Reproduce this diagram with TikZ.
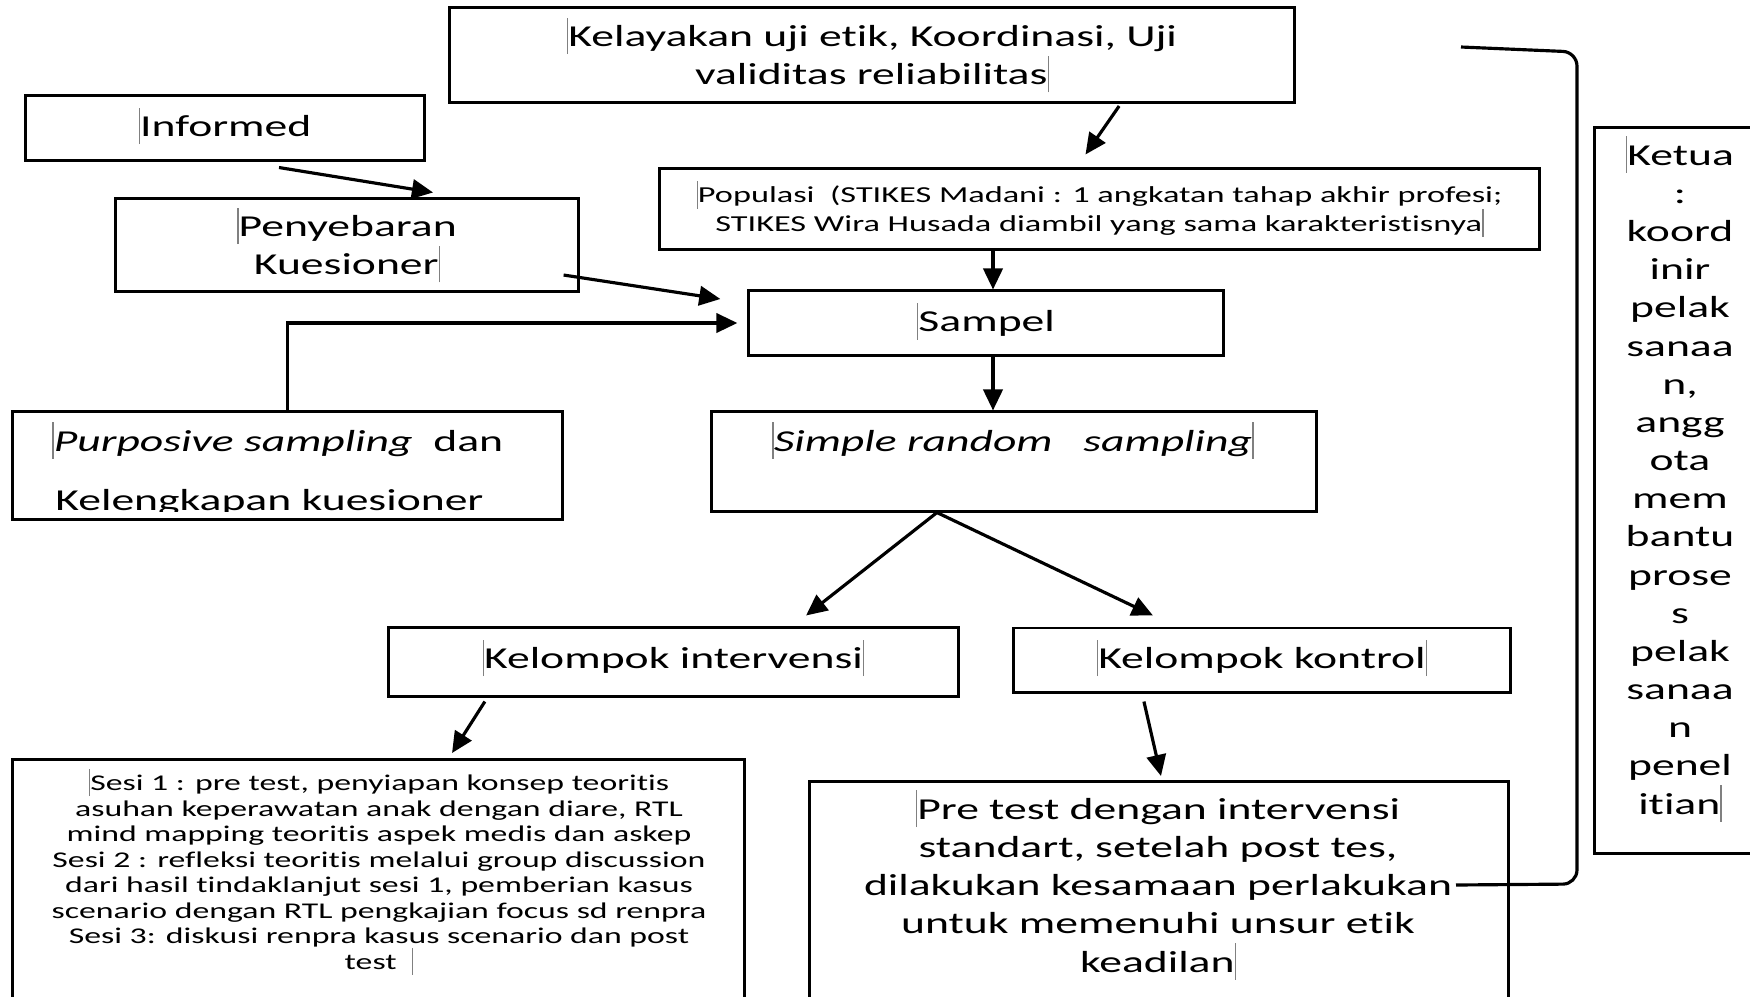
\documentclass[tikz,border=0pt]{standalone}
\usepackage{fontspec}
\setmainfont{Carlito}[FakeStretch=1.5,Ligatures=NoCommon]
\usetikzlibrary{arrows.meta}
\newcommand\cbar{{\color{gray}\rule[-0.25em]{0.4pt}{1.2em}}}

\begin{document}
\begin{tikzpicture}[x=0.01cm,y=-0.01cm,
  box/.style={draw,line width=0.85pt,inner sep=0pt},
  big/.style={font=\fontsize{8.65}{10.85}\selectfont},
  sml/.style={font=\fontsize{6.4}{7.25}\selectfont},
  arr/.style={line width=0.9pt,-{Triangle[length=6pt,width=5.5pt]}}]
\useasboundingbox (0,0) rectangle (1750,996);
\clip (0,0) rectangle (1750,996);
\fill[white] (0,0) rectangle (1750,996);

% boxes
\node[box,big,align=center,minimum width=8.45cm,minimum height=0.95cm] (etik) at (872,55) {\cbar Kelayakan uji etik, Koordinasi, Uji\\validitas reliabilitas\cbar};
\node[box,big,text depth=0.12cm,minimum width=3.98cm,minimum height=0.64cm] (inf) at (225,128) {\cbar Informed};
\node[box,big,align=center,minimum width=4.62cm,minimum height=0.92cm] (sebar) at (347,245) {\cbar Penyebaran\\Kuesioner\cbar};
\node[box,font=\fontsize{6.5}{8}\selectfont,align=center,minimum width=8.79cm,minimum height=0.8cm] (pop) at (1099.5,209) {\cbar Populasi\ \ (STIKES Madani : 1 angkatan tahap akhir profesi;\\STIKES Wira Husada diambil yang sama karakteristisnya\cbar};
\node[box,big,text depth=0.11cm,minimum width=4.74cm,minimum height=0.64cm] (sampel) at (986,323) {\cbar Sampel};
\node[box,minimum width=5.49cm,minimum height=1.07cm] (purp) at (287.5,465.5) {};
\node[box,minimum width=6.04cm,minimum height=0.99cm] (srs) at (1014,461.5) {};
\node[box,big,text depth=0.16cm,minimum width=5.69cm,minimum height=0.68cm] (interv) at (673.5,662) {\cbar Kelompok intervensi\cbar};
\node[box,big,text depth=0.12cm,minimum width=4.96cm,minimum height=0.64cm] (kontrol) at (1262,660) {\cbar Kelompok kontrol\cbar};
\node[box,minimum width=7.31cm,minimum height=2.6cm,anchor=north] (sesi) at (378.5,758) {};
\node[box,minimum width=6.98cm,minimum height=2.4cm,anchor=north] (pre) at (1159,780) {};
\node[box,minimum width=2cm,minimum height=7.26cm,anchor=north west] (ketua) at (1593,126) {};

% texts of the larger boxes
\begin{scope}
\clip (purp.north west) rectangle (562,511);
\node[big,anchor=base west] (purpa) at (40,451) {\cbar\textit{Purposive sampling}\ \ dan};
\node[big,anchor=base west] (purpb) at (43,510) {Kelengkapan kuesioner};
\end{scope}
\node[big,anchor=base] (srst) at (1013,451) {\cbar\textit{Simple random\ \ \ sampling}\cbar};
\node[sml,align=center,anchor=base] (sesit) at (379,969) {\cbar Sesi 1 : pre test, penyiapan konsep teoritis\\
asuhan keperawatan anak dengan diare, RTL\\
mind mapping teoritis aspek medis dan askep\\
Sesi 2 : refleksi teoritis melalui group discussion\\
dari hasil tindaklanjut sesi 1, pemberian kasus\\
scenario dengan RTL pengkajian focus sd renpra\\
Sesi 3: diskusi renpra kasus scenario dan post\\
test\ \ \cbar};
\node[big,align=center,anchor=base] (pret) at (1158,972) {\cbar Pre test dengan intervensi\\
standart, setelah post tes,\\
dilakukan kesamaan perlakukan\\
untuk memenuhi unsur etik\\
keadilan\cbar};
\node[big,align=center,anchor=base] (ketuat) at (1680,814) {\cbar Ketua\\:\\koord\\inir\\pelak\\sanaa\\n,\\angg\\ota\\mem\\bantu\\prose\\s\\pelak\\sanaa\\n\\penel\\itian\cbar};

% arrows
\draw[arr] ([xshift=2.47cm,yshift=-0.02cm]etik.south) -- ([xshift=-0.14cm,yshift=0.13cm]pop.north);
\draw[arr] ([xshift=0.54cm,yshift=-0.06cm]inf.south) -- ([xshift=0.86cm,yshift=0.05cm]sebar.north);
\draw[arr] ([xshift=-0.16cm,yshift=-0.30cm]sebar.east) -- ([xshift=-0.27cm,yshift=0.24cm]sampel.west);
\draw[arr] (purp.north) |- ([xshift=-0.1cm]sampel.west);
\draw[arr] ([xshift=0.07cm]sampel.north |- pop.south) -- ([xshift=0.07cm]sampel.north);
\draw[arr] ([xshift=0.07cm]sampel.south) -- ([xshift=0.07cm]sampel.south |- srs.north);
\draw[arr] ([xshift=-0.77cm]srs.south) -- ([xshift=1.325cm,yshift=0.11cm]interv.north);
\draw[arr] ([xshift=-0.77cm]srs.south) -- ([xshift=-1.09cm,yshift=0.11cm]kontrol.north);
\draw[arr] ([xshift=-1.885cm,yshift=-0.04cm]interv.south) -- ([xshift=0.735cm,yshift=0.05cm]sesi.north);
\draw[arr] ([xshift=-1.18cm,yshift=-0.08cm]kontrol.south) -- ([xshift=0.02cm,yshift=0.04cm]pre.north);

% bracket to the Ketua column
\coordinate (brA) at (1461,47);
\coordinate (brB) at (1456,885);
\draw[line width=0.9pt,rounded corners=4pt] (brA) -- (1577,52) -- (1577,884) -- (brB);
\end{tikzpicture}
\end{document}
